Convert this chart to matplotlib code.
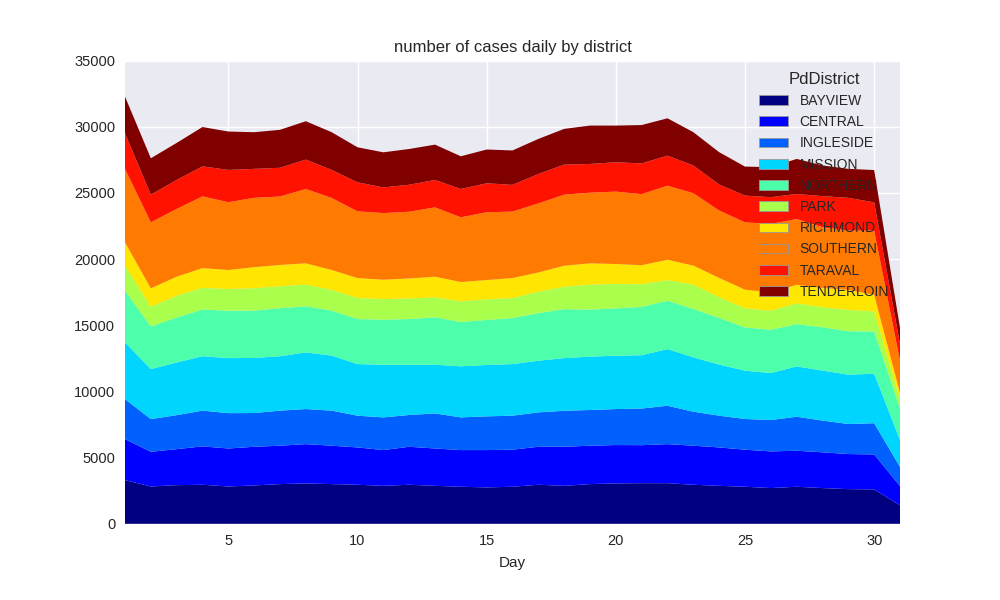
import numpy as np
import matplotlib as mpl
mpl.use('Agg')
import matplotlib.pyplot as plt
import matplotlib.cm as cm

days = list(range(1, 32))
districts = ['BAYVIEW', 'CENTRAL', 'INGLESIDE', 'MISSION', 'NORTHERN',
             'PARK', 'RICHMOND', 'SOUTHERN', 'TARAVAL', 'TENDERLOIN']

bayview = [3300, 2820, 2920, 2950, 2820, 2900, 3000, 3050, 3000, 2950, 2870,
           2950, 2870, 2800, 2750, 2800, 2950, 2870, 3000, 3050, 3070, 3070,
           2950, 2870, 2800, 2700, 2800, 2700, 2620, 2600, 1400]
central = [3100, 2620, 2720, 2900, 2870, 2920, 2900, 2970, 2900, 2820, 2700,
           2870, 2820, 2770, 2820, 2800, 2870, 2950, 2900, 2900, 2870, 2950,
           2950, 2900, 2800, 2770, 2720, 2700, 2650, 2640, 1450]
ingleside = [3020, 2470, 2570, 2700, 2670, 2550, 2650, 2650, 2650, 2400, 2470,
             2400, 2650, 2470, 2550, 2570, 2600, 2720, 2700, 2720, 2770, 2900,
             2570, 2400, 2320, 2370, 2570, 2400, 2270, 2360, 1450]
mission = [4290, 3780, 3980, 4110, 4160, 4160, 4110, 4280, 4160, 3900, 3980,
           3800, 3680, 3860, 3880, 3900, 3900, 3980, 4030, 4030, 4030, 4280,
           4110, 3860, 3650, 3550, 3800, 3780, 3730, 3740, 2030]
northern = [3900, 3220, 3400, 3530, 3580, 3580, 3630, 3480, 3400, 3400, 3400,
            3450, 3580, 3350, 3400, 3480, 3600, 3700, 3550, 3580, 3650, 3650,
            3650, 3530, 3270, 3270, 3200, 3270, 3280, 3190, 2370]
park = [1890, 1490, 1640, 1640, 1640, 1690, 1660, 1640, 1560, 1590, 1560,
        1560, 1510, 1560, 1560, 1510, 1610, 1690, 1890, 1840, 1710, 1560,
        1840, 1560, 1440, 1440, 1560, 1510, 1610, 1520, 700]
richmond = [1770, 1390, 1440, 1490, 1440, 1590, 1610, 1610, 1510, 1510, 1460,
            1510, 1560, 1460, 1460, 1510, 1460, 1590, 1610, 1510, 1440, 1540,
            1440, 1460, 1410, 1390, 1410, 1460, 1510, 1250, 500]
southern = [5540, 4990, 5120, 5420, 5120, 5240, 5170, 5620, 5440, 5040, 5040,
            5040, 5240, 4890, 5120, 5020, 5220, 5370, 5340, 5470, 5370, 5600,
            5470, 5090, 5090, 5170, 4970, 4590, 4490, 4850, 2420]
taraval = [2700, 2090, 2190, 2270, 2440, 2190, 2170, 2220, 2120, 2190, 1940,
           2040, 2070, 2140, 2190, 2020, 2220, 2270, 2170, 2220, 2320, 2270,
           2090, 1970, 2020, 2020, 1890, 2350, 2470, 2140, 1280]
tenderloin = [2770, 2750, 2800, 2970, 2900, 2770, 2870, 2900, 2850, 2650, 2650,
              2700, 2670, 2470, 2550, 2600, 2650, 2700, 2900, 2770, 2900, 2820,
              2520, 2440, 2190, 2270, 2650, 2320, 2190, 2440, 1200]

series = [bayview, central, ingleside, mission, northern,
          park, richmond, southern, taraval, tenderloin]

plt.rcParams['font.family'] = ['Liberation Sans', 'DejaVu Sans']
plt.rcParams['text.color'] = '#262626'
plt.rcParams['axes.labelcolor'] = '#262626'
plt.rcParams['xtick.color'] = '#262626'
plt.rcParams['ytick.color'] = '#262626'

colors = cm.jet(np.linspace(0, 1, len(districts)))

fig = plt.figure(figsize=(10, 6), dpi=100)
ax = fig.add_axes([0.125, 0.127, 0.775, 0.772])
ax.set_facecolor('#EAEAF2')
ax.grid(True, color='white', linewidth=1.0)
ax.set_axisbelow(True)
for sp in ax.spines.values():
    sp.set_visible(False)

ax.stackplot(days, *series, labels=districts, colors=colors, linewidth=0)

ax.set_xlim(1, 31)
ax.set_ylim(0, 35000)
ax.set_xticks([5, 10, 15, 20, 25, 30])
ax.tick_params(axis='both', length=0, labelsize=10.5, pad=7)
ax.set_xlabel('Day', fontsize=11, labelpad=6)
ax.set_title('number of cases daily by district', fontsize=12)

leg = ax.legend(loc='upper right', title='PdDistrict', frameon=False,
                fontsize=10, title_fontsize=12, handlelength=2.1,
                labelspacing=0.52, borderaxespad=0.4)
for h in leg.legend_handles:
    h.set_edgecolor('#999999')
    h.set_linewidth(0.6)

fig.savefig('out.png', dpi=100)
